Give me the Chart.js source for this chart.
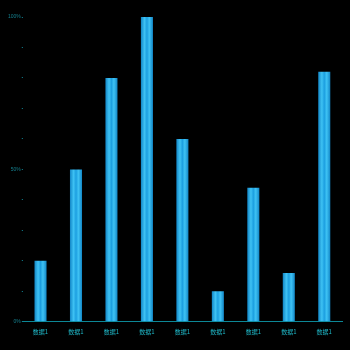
<!DOCTYPE html>
<html><head><meta charset="utf-8">
<script src="https://cdn.jsdelivr.net/npm/chart.js@4"></script>
<style>html,body{margin:0;padding:0;background:#000;}#w{width:350px;height:350px;}</style>
</head><body><div id="w"><canvas id="c"></canvas></div>
<script>
const categories = ["数据1","数据1","数据1","数据1","数据1","数据1","数据1","数据1","数据1"];
const values = [20, 50, 80, 100, 60, 10, 44, 16, 82];
const yTickLabels = {0: "0%", 50: "50%", 100: "100%"};
const BAR_RATIO = 0.34;

function barGradient(ctx) {
  const chart = ctx.chart;
  const xs = chart.scales.x;
  if (!xs || !chart.chartArea || ctx.dataIndex === undefined) return '#2ab0ee';
  const cx = xs.getPixelForValue(ctx.dataIndex);
  const w = (xs.width / categories.length) * BAR_RATIO;
  const g = chart.ctx.createLinearGradient(cx - w/2, 0, cx + w/2, 0);
  g.addColorStop(0, '#1286c6');
  g.addColorStop(0.3, '#3ec2f4');
  g.addColorStop(0.5, '#1c9fe0');
  g.addColorStop(0.7, '#3ec2f4');
  g.addColorStop(1, '#1286c6');
  return g;
}

new Chart(document.getElementById('c'), {
  type: 'bar',
  data: {
    labels: categories,
    datasets: [{ data: values, backgroundColor: barGradient, borderWidth: 0,
      barPercentage: BAR_RATIO, categoryPercentage: 1 }]
  },
  options: {
    responsive: true, maintainAspectRatio: false, animation: false,
    layout: { padding: { top: 17, right: 8, left: 7, bottom: 9 } },
    plugins: { legend: { display: false }, tooltip: { enabled: false } },
    scales: {
      x: {
        grid: { display: false, drawTicks: false },
        border: { display: true, color: '#0c8796', width: 1 },
        ticks: { color: '#1fb8c8', font: { size: 6, family: 'Noto Sans CJK SC' }, padding: 6, maxRotation: 0 }
      },
      y: {
        min: 0, max: 100,
        grid: { drawOnChartArea: false, drawTicks: true, tickLength: 1, tickColor: '#0d6f7c' },
        border: { display: false },
        ticks: { stepSize: 10, autoSkip: false, color: '#14808f', font: { size: 5 }, padding: 1,
          callback: v => (yTickLabels[v] !== undefined ? yTickLabels[v] : '') }
      }
    }
  }
});
</script></body></html>
